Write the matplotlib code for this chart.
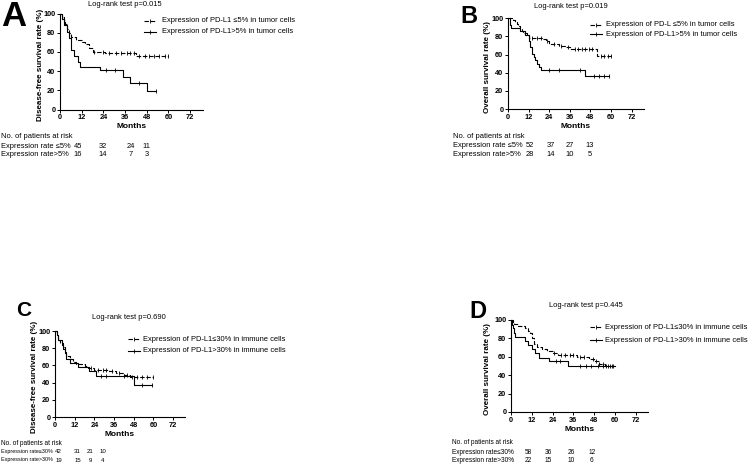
import numpy as np
import matplotlib
matplotlib.use("Agg")
import matplotlib.pyplot as plt
from matplotlib.lines import Line2D

plt.rcParams["font.family"] = ["Liberation Sans", "DejaVu Sans"]

W, H = 750, 466

# ---------------------------------------------------------
# DATA
# ---------------------------------------------------------
# Panel A - disease-free survival, tumour cells
a_low_t = [0, 1, 2, 3, 4, 5, 6, 9, 12, 14, 16, 18, 25, 42, 60]
a_low_s = [100, 96, 93, 89, 84, 80, 76, 72, 70, 68, 64, 60, 59, 56, 56]
a_low_c = [19, 24, 27, 31, 34, 37, 39, 41, 44, 47, 49, 52, 55, 58, 60]
a_high_t = [0, 1, 2, 4, 5, 6, 8, 10, 11, 22, 35, 39, 48, 53]
a_high_s = [100, 94, 88, 81, 75, 62, 56, 50, 44, 41, 34, 28, 19, 19]
a_high_c = [25.5, 30.5, 44, 53]

# Panel B - overall survival, tumour cells
b_low_t = [0, 3, 4, 5, 6, 7, 8, 9, 11, 12, 20, 22, 24, 30, 33, 36, 52, 60]
b_low_s = [100, 98, 96, 94, 92, 88, 86, 84, 82, 78, 77, 75, 72, 70, 68, 66, 58, 58]
b_low_c = [14, 17, 19, 23, 27, 31, 35, 39, 41, 43, 45, 47, 49, 54, 56, 58, 60]
b_high_t = [0, 1, 2, 7, 10, 12, 12.5, 13, 14, 15, 16, 17, 18, 19, 45, 59]
b_high_s = [100, 93, 89, 86, 82, 79, 75, 68, 61, 57, 54, 50, 46, 43, 36, 36]
b_high_c = [24, 30, 42, 50, 53, 56, 59]

# Panel C - disease-free survival, immune cells
c_low_t = [0, 1, 2, 3, 5, 6, 7, 9, 11, 13, 18, 20, 24, 33, 37, 42, 46, 60]
c_low_s = [100, 95, 90, 86, 81, 76, 71, 67, 64, 62, 59, 57, 55, 53, 51, 49, 47, 47]
c_low_c = [22, 26, 29, 31, 35, 39, 44, 47, 50, 53, 56, 60]
c_high_t = [0, 1, 2, 4, 5, 6, 7, 9, 14, 21, 25, 48, 59]
c_high_s = [100, 95, 89, 84, 79, 74, 68, 63, 58, 53, 48, 37, 37]
c_high_c = [28, 31, 42, 53, 59]

# Panel D - overall survival, immune cells
d_low_t = [0, 1, 2, 4, 6, 8, 10, 11, 12, 13, 15, 18, 21, 24, 27, 38, 45, 48, 51, 54, 60]
d_low_s = [100, 98, 96, 94, 93, 91, 88, 86, 80, 74, 71, 68, 66, 64, 62, 60, 58, 55, 52, 50, 50]
d_low_c = [25, 29, 31, 34, 36, 40, 42, 47, 49, 51, 53, 55, 57, 59]
d_high_t = [0, 0.5, 1, 2, 2.5, 8, 10, 12, 14, 16, 22, 33, 60]
d_high_s = [100, 95, 91, 86, 82, 77, 73, 68, 64, 59, 55, 50, 50]
d_high_c = [26, 28, 40, 43, 46, 50, 53, 56, 58]

# numbers at risk
a_risk_low = [45, 32, 24, 11]
a_risk_high = [16, 14, 7, 3]
b_risk_low = [52, 37, 27, 13]
b_risk_high = [28, 14, 10, 5]
c_risk_low = [42, 31, 21, 10]
c_risk_high = [19, 15, 9, 4]
d_risk_low = [58, 36, 26, 12]
d_risk_high = [22, 15, 10, 6]

month_ticks = [0, 12, 24, 36, 48, 60, 72]
pct_ticks = [0, 20, 40, 60, 80, 100]


def fx(x):
    return x / W


def fy(y):
    return 1 - y / H


def step_value(t, s, c):
    idx = np.searchsorted(t, c, side="right") - 1
    return np.asarray(s)[idx]


DASH = (0, (4, 1.6))


def km_panel(fig, rect, low, high, ylabel, ylab_x):
    # rect in pixels: x of 0 month, x of 79 month, y of 100 %, y of 0 %
    x0, x1, ytop, ybot = rect
    ax = fig.add_axes([fx(x0), fy(ybot), (x1 - x0) / W, (ybot - ytop) / H])
    for (t, s, c), ls in ((low, DASH), (high, "-")):
        ax.step(t, s, where="post", color="black", lw=0.8, ls=ls, clip_on=False)
        ax.plot(c, step_value(t, s, c), ls="none", marker="|", ms=3,
                mew=0.6, color="black", clip_on=False)
    ax.set_xlim(0, 79)
    ax.set_ylim(0, 100)
    ax.set_xticks(month_ticks)
    ax.set_yticks(pct_ticks)
    for lab in ax.get_xticklabels() + ax.get_yticklabels():
        lab.set_fontweight("bold")
    ax.tick_params(labelsize=5.3, length=2.2, width=0.7, pad=1.2)
    ax.spines["top"].set_visible(False)
    ax.spines["right"].set_visible(False)
    for sp in ("left", "bottom"):
        ax.spines[sp].set_linewidth(0.8)
    ax.set_xlabel("Months", fontsize=6, fontweight="bold", labelpad=1.5)
    fig.text(fx(ylab_x), fy((ytop + ybot) / 2 + 3), ylabel, rotation=90,
             fontsize=5.8, fontweight="bold", ha="center", va="center")
    return ax


def legend(fig, x_line, x_text, ys, labels):
    for (y, lab), ls in zip(zip(ys, labels), (DASH, "-")):
        fig.add_artist(Line2D([fx(x_line), fx(x_line + 12)], [fy(y), fy(y)],
                              transform=fig.transFigure, color="black",
                              lw=0.8, ls=ls))
        fig.add_artist(Line2D([fx(x_line + 6)], [fy(y)], marker="|", ms=3,
                              mew=0.6, transform=fig.transFigure,
                              color="black"))
        fig.text(fx(x_text), fy(y), lab, fontsize=5.4, va="center", ha="left")


def risk_table(fig, x_text, y_head, y_rows, row_labels, rows, num_x, fs,
               fs_head=None, fs_num=None):
    fs_head = fs_head or fs
    fs_num = fs_num or fs
    fig.text(fx(x_text), fy(y_head), "No. of patients at risk",
             fontsize=fs_head, va="center", ha="left")
    for y, lab, vals in zip(y_rows, row_labels, rows):
        fig.text(fx(x_text), fy(y), lab, fontsize=fs, va="center", ha="left")
        for x, v in zip(num_x, vals):
            fig.text(fx(x), fy(y), str(v), fontsize=fs_num, va="center",
                     ha="center")


fig = plt.figure(figsize=(7.5, 4.66), dpi=100)

# ---------------- A ----------------
km_panel(fig, (60, 202.7, 13.5, 109.5),
         (a_low_t, a_low_s, a_low_c), (a_high_t, a_high_s, a_high_c),
         "Disease-free survival rate (%)", 40)
fig.text(fx(1), fy(17), "A", fontsize=25, fontweight="bold", va="center")
fig.text(fx(125), fy(5), "Log-rank test p=0.015", fontsize=5.4,
         ha="center", va="center")
legend(fig, 144, 161.5, [20.7, 31.7],
       ["Expression of PD-L1 \u22645% in tumor cells",
        "Expression of PD-L1>5% in tumor cells"])
risk_table(fig, 1, 137, [146.7, 155],
           ["Expression rate \u22645%", "Expression rate>5%"],
           [a_risk_low, a_risk_high], [77.7, 102.7, 130.5, 146.7], 5.4)

# ---------------- B ----------------
km_panel(fig, (508, 643.6, 18.3, 109),
         (b_low_t, b_low_s, b_low_c), (b_high_t, b_high_s, b_high_c),
         "Overall survival rate (%)", 487.3)
fig.text(fx(460), fy(16.7), "B", fontsize=17, fontweight="bold", va="center")
fig.text(fx(571), fy(6), "Log-rank test p=0.019", fontsize=5.4,
         ha="center", va="center")
legend(fig, 590, 606, [25, 34.3],
       ["Expression of PD-L \u22645% in tumor cells",
        "Expression of PD-L1>5% in tumor cells"])
risk_table(fig, 452.7, 136.7, [145.7, 155],
           ["Expression rate \u22645%", "Expression rate>5%"],
           [b_risk_low, b_risk_high], [529.5, 550.5, 569.5, 589.5], 5.4)

# ---------------- C ----------------
km_panel(fig, (55, 184.5, 331, 417),
         (c_low_t, c_low_s, c_low_c), (c_high_t, c_high_s, c_high_c),
         "Disease-free survival rate (%)", 35)
fig.text(fx(16), fy(310.5), "C", fontsize=15, fontweight="bold", va="center")
fig.text(fx(129), fy(317.3), "Log-rank test p=0.690", fontsize=5.4,
         ha="center", va="center")
legend(fig, 128, 143.3, [339.3, 351],
       ["Expression of PD-L1\u226430% in immune cells",
        "Expression of PD-L1>30% in immune cells"])
risk_table(fig, 1, 443.3, [451.7, 460],
           ["Expression rate\u226430%", "Expression rate>30%"],
           [c_risk_low, c_risk_high], [58.5, 77.5, 90.5, 102.5], 3.9,
           fs_head=4.7, fs_num=4.4)

# ---------------- D ----------------
km_panel(fig, (511, 648, 320, 412),
         (d_low_t, d_low_s, d_low_c), (d_high_t, d_high_s, d_high_c),
         "Overall survival rate (%)", 488)
fig.text(fx(469), fy(311.5), "D", fontsize=17, fontweight="bold", va="center")
fig.text(fx(585.5), fy(305.7), "Log-rank test p=0.445", fontsize=5.4,
         ha="center", va="center")
legend(fig, 590, 605, [327.3, 340],
       ["Expression of PD-L1\u226430% in immune cells",
        "Expression of PD-L1>30% in immune cells"])
risk_table(fig, 451.7, 442.3, [452.3, 460.7],
           ["Expression rate\u226430%", "Expression rate>30%"],
           [d_risk_low, d_risk_high], [528.5, 548.3, 571, 591.7], 4.7)

fig.savefig("out.png", dpi=100)
